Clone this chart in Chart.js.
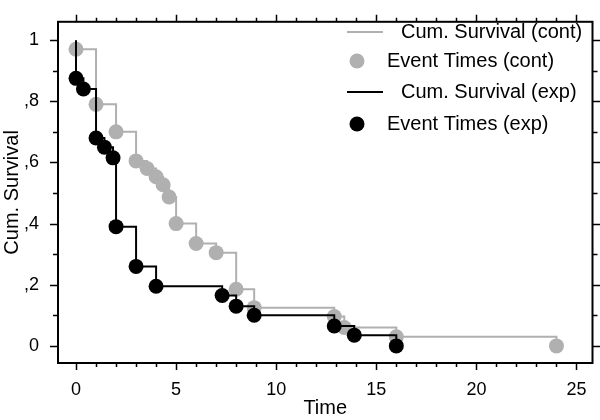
<!DOCTYPE html>
<html>
<head>
<meta charset="utf-8">
<script src="https://cdn.jsdelivr.net/npm/chart.js@4"></script>
<style>
  html, body { margin: 0; padding: 0; background: #fff; }
  #wrap { width: 600px; height: 420px; }
</style>
</head>
<body>
<div id="wrap"><canvas id="grafico"></canvas></div>
<script>
// Kaplan-Meier data
const contTimes = [0, 1, 2, 3, 3.55, 4, 4.35, 4.65, 5, 6, 7, 8, 8.9, 12.9, 13.4, 16, 24];
const contSurv = [0.97, 0.79, 0.70, 0.605, 0.58, 0.553, 0.527, 0.487, 0.40, 0.335, 0.305, 0.185, 0.125, 0.096, 0.06, 0.03, 0];
const expTimes = [0, 0.37, 1, 1.42, 1.85, 2, 3, 4, 7.3, 8, 8.9, 12.9, 13.9, 16];
const expSurv = [0.875, 0.84, 0.68, 0.65, 0.615, 0.39, 0.26, 0.195, 0.165, 0.13, 0.10, 0.065, 0.035, 0];

const xTicks = [0, 5, 10, 15, 20, 25];
const yTicks = [0, 0.2, 0.4, 0.6, 0.8, 1];
const xMinor = [];
for (let i = 0; i <= 25; i++) xMinor.push(i);
const yMinor = [];
for (let i = 0; i <= 10; i++) yMinor.push(i / 10);

const GREY = '#b0b0b0';
const FONT = '"Liberation Sans", Arial, sans-serif';

function points(times, surv) {
    return times.map((t, i) => ({ x: t, y: surv[i] }));
}
function stepLine(times, surv) {
    return [{ x: 0, y: 1 }].concat(points(times, surv));
}

// box round the plot with ticks on all four sides
const boxPlugin = {
    id: 'box',
    afterDraw(chart) {
        const ctx = chart.ctx;
        const a = chart.chartArea;
        const xs = chart.scales.x, ys = chart.scales.y;
        ctx.save();
        ctx.strokeStyle = '#000';
        ctx.lineWidth = 2;
        ctx.strokeRect(a.left, a.top, a.right - a.left, a.bottom - a.top);
        ctx.lineWidth = 1.5;
        ctx.beginPath();
        xMinor.forEach(v => {
            const len = v % 5 === 0 ? 7 : 4;
            const px = Math.round(xs.getPixelForValue(v)) + 0.5;
            ctx.moveTo(px, a.bottom); ctx.lineTo(px, a.bottom + len);
            ctx.moveTo(px, a.top); ctx.lineTo(px, a.top - len);
        });
        yMinor.forEach((v, i) => {
            const len = i % 2 === 0 ? 8 : 5;
            const py = Math.round(ys.getPixelForValue(v)) + 0.5;
            ctx.moveTo(a.left, py); ctx.lineTo(a.left - len, py);
            ctx.moveTo(a.right, py); ctx.lineTo(a.right + len, py);
        });
        ctx.stroke();
        ctx.restore();
    }
};

// legend inside the plot, upper right
const legendPlugin = {
    id: 'legendBox',
    afterDraw(chart) {
        const ctx = chart.ctx;
        const items = [
            { kind: 'line', color: GREY, text: 'Cum. Survival (cont)', y: 32 },
            { kind: 'dot', color: GREY, text: 'Event Times (cont)', y: 61 },
            { kind: 'line', color: '#000', text: 'Cum. Survival (exp)', y: 92 },
            { kind: 'dot', color: '#000', text: 'Event Times (exp)', y: 124 }
        ];
        ctx.save();
        ctx.font = '20px ' + FONT;
        ctx.textBaseline = 'middle';
        ctx.textAlign = 'left';
        items.forEach(it => {
            if (it.kind === 'line') {
                ctx.strokeStyle = it.color;
                ctx.lineWidth = 2;
                ctx.beginPath();
                ctx.moveTo(347, it.y); ctx.lineTo(383, it.y);
                ctx.stroke();
                ctx.fillStyle = '#000';
                ctx.fillText(it.text, 401, it.y);
            } else {
                ctx.fillStyle = it.color;
                ctx.beginPath();
                ctx.arc(357, it.y, 7.5, 0, Math.PI * 2);
                ctx.fill();
                ctx.fillStyle = '#000';
                ctx.fillText(it.text, 387, it.y);
            }
        });
        ctx.restore();
    }
};

const config = {
    type: 'scatter',
    data: {
        datasets: [
            {
                label: 'Cum. Survival (cont)',
                type: 'line',
                data: stepLine(contTimes, contSurv),
                borderColor: GREY,
                borderWidth: 2,
                stepped: 'before',
                pointRadius: 0,
                fill: false,
                order: 4
            },
            {
                label: 'Event Times (cont)',
                data: points(contTimes, contSurv),
                backgroundColor: GREY,
                borderWidth: 0,
                pointRadius: 7.5,
                order: 3
            },
            {
                label: 'Cum. Survival (exp)',
                type: 'line',
                data: stepLine(expTimes, expSurv),
                borderColor: '#000',
                borderWidth: 2,
                stepped: 'before',
                pointRadius: 0,
                fill: false,
                order: 2
            },
            {
                label: 'Event Times (exp)',
                data: points(expTimes, expSurv),
                backgroundColor: '#000',
                borderWidth: 0,
                pointRadius: 7.5,
                order: 1
            }
        ]
    },
    options: {
        responsive: true,
        maintainAspectRatio: false,
        animation: false,
        layout: { padding: { top: 6, right: 7, left: 0, bottom: 0 } },
        plugins: {
            legend: { display: false },
            tooltip: { enabled: false }
        },
        scales: {
            x: {
                type: 'linear',
                min: -0.9,
                max: 25.8,
                grid: { display: false },
                border: { display: false },
                afterBuildTicks: s => { s.ticks = xTicks.map(v => ({ value: v })); },
                afterFit: s => { s.height = 57; },
                ticks: {
                    color: '#000',
                    font: { family: FONT, size: 18 },
                    padding: 8,
                    maxRotation: 0
                },
                title: {
                    display: true,
                    text: 'Time',
                    color: '#000',
                    font: { family: FONT, size: 20 },
                    padding: 0
                }
            },
            y: {
                type: 'linear',
                min: -0.056,
                max: 1.06,
                grid: { display: false },
                border: { display: false },
                afterBuildTicks: s => { s.ticks = yTicks.map(v => ({ value: v })); },
                afterFit: s => { s.width = 58; },
                ticks: {
                    color: '#000',
                    font: { family: FONT, size: 18 },
                    padding: 11,
                    callback: v => {
                        if (Math.abs(v) < 1e-9) return '0';
                        if (Math.abs(v - 1) < 1e-9) return '1';
                        return ',' + Math.round(v * 10);
                    }
                },
                title: {
                    display: true,
                    text: 'Cum. Survival',
                    color: '#000',
                    font: { family: FONT, size: 20 },
                    padding: 0
                }
            }
        }
    },
    plugins: [boxPlugin, legendPlugin]
};

new Chart(document.getElementById('grafico'), config);
</script>
</body>
</html>
